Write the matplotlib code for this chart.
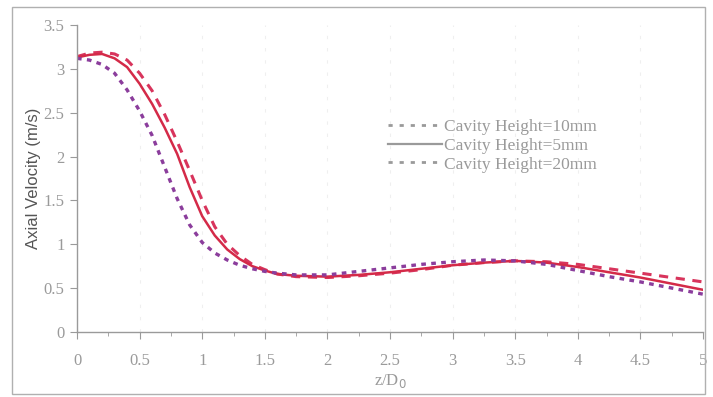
import matplotlib
matplotlib.use("Agg")
import matplotlib.pyplot as plt
from matplotlib.lines import Line2D
from matplotlib.patches import Rectangle
from matplotlib.ticker import MultipleLocator

# axial positions z/D0
z = [0, 0.1, 0.2, 0.3, 0.4, 0.5, 0.6, 0.7, 0.8, 0.9, 1.0, 1.1, 1.2, 1.3, 1.4, 1.5,
     1.6, 1.75, 2.0, 2.25, 2.5, 2.75, 3.0, 3.25, 3.5, 3.75, 4.0, 4.25, 4.5, 4.75, 5.0]

# axial velocity (m/s) for each cavity height
v_10mm = [3.14, 3.18, 3.19, 3.17, 3.10, 2.95, 2.75, 2.48, 2.17, 1.84, 1.50, 1.20, 1.00, 0.87, 0.77, 0.71,
          0.66, 0.63, 0.62, 0.64, 0.67, 0.71, 0.76, 0.79, 0.81, 0.80, 0.77, 0.72, 0.67, 0.62, 0.57]
v_5mm = [3.13, 3.16, 3.17, 3.12, 3.02, 2.83, 2.60, 2.33, 2.03, 1.65, 1.32, 1.10, 0.94, 0.83, 0.75, 0.70,
         0.66, 0.64, 0.63, 0.65, 0.68, 0.72, 0.76, 0.79, 0.81, 0.79, 0.74, 0.68, 0.62, 0.55, 0.48]
v_20mm = [3.12, 3.10, 3.05, 2.95, 2.76, 2.52, 2.24, 1.88, 1.52, 1.22, 1.02, 0.90, 0.82, 0.76, 0.72, 0.69,
          0.67, 0.65, 0.65, 0.69, 0.73, 0.77, 0.80, 0.82, 0.81, 0.77, 0.70, 0.63, 0.57, 0.50, 0.43]

labels = ["Cavity Height=10mm", "Cavity Height=5mm", "Cavity Height=20mm"]

grey = "#9a9a9a"
serif = "Liberation Serif"

fig = plt.figure(figsize=(7.13, 3.97), dpi=100)
ax = fig.add_axes([0.108, 0.164, 0.878, 0.773])

ax.plot(z, v_10mm, color="#d8345c", lw=2.2, ls=(0, (3, 2.5)))
ax.plot(z, v_5mm, color="#d42a48", lw=1.8)
ax.plot(z, v_20mm, color="#8b3d9c", lw=2.4, ls=(0, (1.4, 1.6)))

ax.set_xlim(0, 5)
ax.set_ylim(0, 3.5)
ax.xaxis.set_minor_locator(MultipleLocator(0.25))
ax.set_xticks([0, 0.5, 1, 1.5, 2, 2.5, 3, 3.5, 4, 4.5, 5])
ax.set_xticklabels(["0", "0.5", "1", "1.5", "2", "2.5", "3", "3.5", "4", "4.5", "5"])
ax.set_yticks([0, 0.5, 1, 1.5, 2, 2.5, 3, 3.5])
ax.set_yticklabels(["0", "0.5", "1", "1.5", "2", "2.5", "3", "3.5"])

for lab in ax.get_xticklabels() + ax.get_yticklabels():
    lab.set_fontfamily(serif)
    lab.set_fontsize(12)
    lab.set_color(grey)
ax.tick_params(axis="x", which="major", length=5, color=grey, pad=10)
ax.tick_params(axis="x", which="minor", length=3, color=grey)
ax.tick_params(axis="y", length=5, color=grey, pad=4)

for s in ["top", "right"]:
    ax.spines[s].set_visible(False)
for s in ["left", "bottom"]:
    ax.spines[s].set_color(grey)
    ax.spines[s].set_linewidth(1.0)

# very faint vertical grid lines
ax.grid(axis="x", which="major", color="#efefef", ls=(0, (3, 8)), lw=0.8)
ax.set_axisbelow(True)

ax.set_ylabel("Axial Velocity (m/s)", fontsize=12, color="#555555",
              family="Liberation Sans", labelpad=2)
ax.set_xlabel("z/D$_0$", fontsize=12, color=grey, family=serif, labelpad=2)

handles = [
    Line2D([], [], color=grey, lw=2, ls=(0, (1.5, 2.5))),
    Line2D([], [], color=grey, lw=1.6),
    Line2D([], [], color=grey, lw=2, ls=(0, (1.5, 2.5))),
]
leg = fig.legend(handles, labels, loc="upper left", bbox_to_anchor=(0.522, 0.74),
                 frameon=False, handlelength=3.1, handletextpad=0.15,
                 labelspacing=0.15, prop={"family": serif, "size": 12.5})
for t in leg.get_texts():
    t.set_color(grey)

# outer frame
fig.patches.append(Rectangle((0.017, 0.008), 0.972, 0.975, transform=fig.transFigure,
                             fill=False, edgecolor="#b0b0b0", lw=1.0))

fig.savefig("out.png", dpi=100)
